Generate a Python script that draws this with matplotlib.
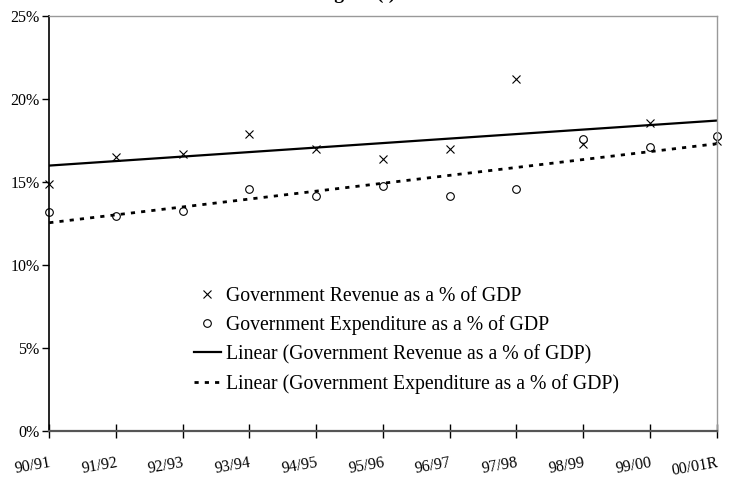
import numpy as np
import matplotlib
matplotlib.use("Agg")
import matplotlib.pyplot as plt
from matplotlib.ticker import FuncFormatter

plt.rcParams['font.family'] = ['Liberation Serif', 'DejaVu Serif']

years = ['90/91', '91/92', '92/93', '93/94', '94/95', '95/96',
         '96/97', '97/98', '98/99', '99/00', '00/01R']
revenue = [14.9, 16.5, 16.7, 17.9, 17.0, 16.4, 17.0, 21.2, 17.3, 18.6, 17.5]
expenditure = [13.2, 13.0, 13.3, 14.6, 14.2, 14.8, 14.2, 14.6, 17.6, 17.1, 17.8]

fig = plt.figure(figsize=(7.35, 4.92), dpi=100)
ax = fig.add_axes([0.067, 0.123, 0.908, 0.844])

x = np.arange(len(years))

# linear trends
rev_fit = np.polyval(np.polyfit(x, revenue, 1), x)
exp_fit = np.polyval(np.polyfit(x, expenditure, 1), x)

ax.plot(x, revenue, linestyle='none', marker='x', markersize=5.5,
        markeredgewidth=0.8, color='black', clip_on=False,
        label='Government Revenue as a % of GDP')
ax.plot(x, expenditure, linestyle='none', marker='o', markersize=5.5,
        markeredgewidth=0.8, markerfacecolor='white', color='black',
        clip_on=False, label='Government Expenditure as a % of GDP')
ax.plot(x, rev_fit, color='black', linewidth=1.6,
        label='Linear (Government Revenue as a % of GDP)')
ax.plot(x, exp_fit, color='black', linewidth=2.0, linestyle=(0, (1.5, 2.2)),
        label='Linear (Government Expenditure as a % of GDP)')

ax.set_xlim(0, len(years) - 1)
ax.set_ylim(0, 25)
ax.set_yticks(np.arange(0, 26, 5))
ax.yaxis.set_major_formatter(FuncFormatter(lambda v, p: f'{v:.0f}%'))
ax.set_xticks(x)
ax.set_xticklabels(years, rotation=10, ha='right', va='top',
                   rotation_mode='anchor')

ax.tick_params(axis='y', direction='out', length=5, width=1, labelsize=11.5,
               pad=2)
ax.tick_params(axis='x', direction='inout', length=10, width=1,
               labelsize=11.5, pad=12)

ax.spines['left'].set_color('black')
ax.spines['left'].set_linewidth(1.2)
ax.spines['bottom'].set_color('#555555')
ax.spines['bottom'].set_linewidth(1.6)
ax.spines['top'].set_color('#999999')
ax.spines['top'].set_linewidth(1.0)
ax.spines['right'].set_color('#999999')
ax.spines['right'].set_linewidth(1.0)

leg = ax.legend(loc='upper left', bbox_to_anchor=(0.2045, 0.367),
                frameon=False, fontsize=14.2, handlelength=1.4,
                handletextpad=0.25, labelspacing=0.48, borderaxespad=0)

fig.text(0.484, 1 + 1.0 / 492, 'Figure (i)', ha='center', va='baseline',
         fontsize=14, fontweight='bold')

fig.savefig('out.png', dpi=100)
